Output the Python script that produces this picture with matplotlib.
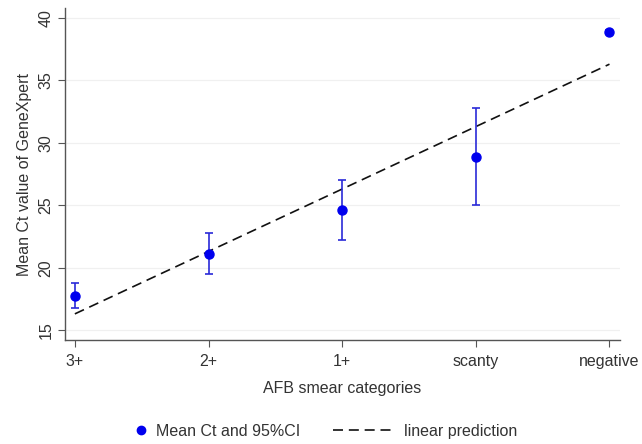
import numpy as np
import matplotlib.pyplot as plt
from matplotlib.lines import Line2D

plt.rcParams['font.family'] = ['Liberation Sans', 'DejaVu Sans']

categories = ["3+", "2+", "1+", "scanty", "negative"]
mean_ct = [17.75, 21.1, 24.6, 28.9, 38.9]
ci_low = [16.75, 19.5, 22.2, 25.05, 38.75]
ci_high = [18.75, 22.75, 27.0, 32.8, 39.05]
linear_pred = [16.3, 21.3, 26.3, 31.3, 36.3]

x = np.arange(1, len(categories) + 1)
mean_ct = np.array(mean_ct)
yerr = [mean_ct - np.array(ci_low), np.array(ci_high) - mean_ct]

fs = 11.5
fig = plt.figure(figsize=(6.42, 4.44), dpi=100)
ax = fig.add_axes([0.101, 0.234, 0.865, 0.748])

ax.plot(x, linear_pred, color="#111111", lw=1.2, ls=(0, (6, 3.5)), zorder=2)
ax.errorbar(x, mean_ct, yerr=yerr, fmt="none", ecolor="#2a2ad8", elinewidth=1.2,
            capsize=3, capthick=1.2, zorder=3)
ax.plot(x, mean_ct, "o", color="#0000ee", ms=6.5, zorder=4)

ax.set_xlim(0.925, 5.08)
ax.set_ylim(14.2, 40.8)
ax.set_yticks([15, 20, 25, 30, 35, 40])
ax.set_xticks(x)
ax.set_xticklabels(categories)
ax.grid(axis="y", color="#f0f0f0", lw=0.9)
ax.set_axisbelow(True)

for s in ["top", "right"]:
    ax.spines[s].set_visible(False)
for s in ["left", "bottom"]:
    ax.spines[s].set_color("#555555")
    ax.spines[s].set_linewidth(1.0)

ax.tick_params(axis="both", colors="#555555", length=5, labelsize=fs, labelcolor="#333333")
plt.setp(ax.get_yticklabels(), rotation=90, va="center")
ax.tick_params(axis="x", pad=5)
ax.tick_params(axis="y", pad=3)

ax.set_xlabel("AFB smear categories", fontsize=fs, color="#333333", labelpad=9)
ax.set_ylabel("Mean Ct value of GeneXpert", fontsize=fs, color="#333333", labelpad=5)

leg1 = fig.legend([Line2D([], [], marker="o", color="#0000ee", ls="none", ms=6)],
                  ["Mean Ct and 95%CI"], loc="center left",
                  bbox_to_anchor=(0.19, 0.028), frameon=False, fontsize=fs,
                  handlelength=0.6, handletextpad=0.6, labelcolor="#333333")
leg2 = fig.legend([Line2D([], [], color="#111111", lw=1.2, ls=(0, (6, 3.5)))],
                  ["linear prediction"], loc="center left",
                  bbox_to_anchor=(0.497, 0.028), frameon=False, fontsize=fs,
                  handlelength=3.8, handletextpad=0.6, labelcolor="#333333")

fig.savefig("out.png", dpi=100)
